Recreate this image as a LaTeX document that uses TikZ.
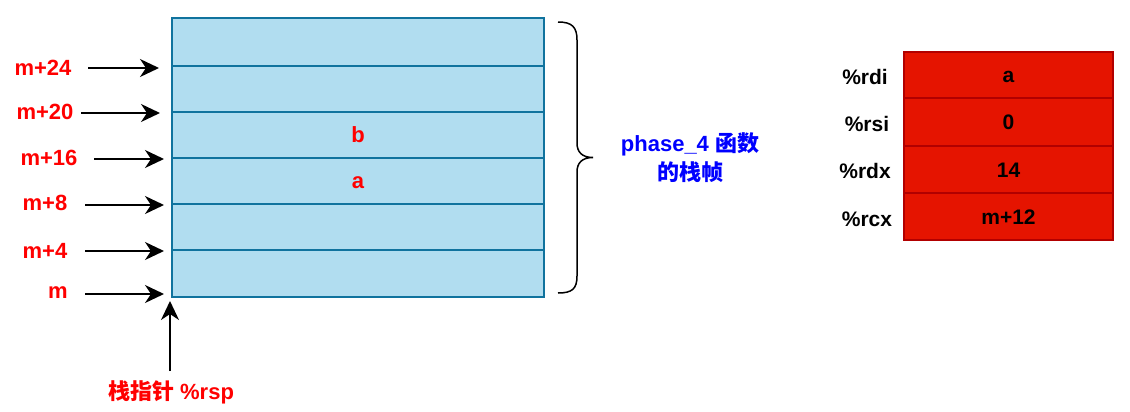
\documentclass[tikz,border=0pt]{standalone}
\usepackage{fontspec}
\setmainfont{Liberation Sans}
\newfontfamily\cjk{Noto Sans CJK SC}
\usetikzlibrary{arrows.meta}
\definecolor{stackfill}{HTML}{B1DDF0}
\definecolor{stackline}{HTML}{10739E}
\definecolor{regfill}{HTML}{E51400}
\definecolor{regline}{HTML}{B20000}
\definecolor{txtblue}{HTML}{0000FF}
\begin{document}
\begin{tikzpicture}[x=1pt,y=-1pt,
  lbl/.style={font=\fontsize{22}{26}\selectfont\bfseries, text=red, inner sep=0pt},
  reglbl/.style={font=\fontsize{21}{25}\selectfont\bfseries, text=black, inner sep=0pt},
  cell/.style={draw=stackline, fill=stackfill, line width=1.5pt, minimum width=372pt, inner sep=0pt,
    font=\fontsize{22}{26}\selectfont\bfseries, text=red, text height=15pt, text depth=0pt},
  reg/.style={draw=regline, fill=regfill, line width=1.5pt, minimum width=209pt, inner sep=0pt,
    font=\fontsize{21}{25}\selectfont\bfseries, text=black, text height=15pt, text depth=0pt},
  arr/.style={line width=1.8pt, -{Stealth[length=19pt,width=18pt,inset=6pt]}},
]
\useasboundingbox (0,0) rectangle (1130,412);

% stack cells
\node[cell, minimum height=48pt] (s1) at (358,42) {};
\node[cell, minimum height=46pt] (s2) at (358,89) {};
\node[cell, minimum height=46pt] (s3) at (358,135) {b};
\node[cell, minimum height=46pt] (s4) at (358,181) {a};
\node[cell, minimum height=46pt] (s5) at (358,227) {};
\node[cell, minimum height=47pt] (s6) at (358,273.5) {};

% left labels
\node[lbl] (l24) at (43,68) {m+24};
\node[lbl] (l20) at (45,112) {m+20};
\node[lbl] (l16) at (49,158) {m+16};
\node[lbl] (l8) at (45,203) {m+8};
\node[lbl] (l4) at (45,251) {m+4};
\node[lbl] (l0) at (58,293) {m};

\coordinate (a24s) at (88,68);  \coordinate (a24e) at (159,68);
\coordinate (a20s) at (81,113); \coordinate (a20e) at (160,113);
\coordinate (a16s) at (94,159); \coordinate (a16e) at (164,159);
\coordinate (a8s) at (85,205);  \coordinate (a8e) at (164,205);
\coordinate (a4s) at (85,251);  \coordinate (a4e) at (164,251);
\coordinate (a0s) at (85,294);  \coordinate (a0e) at (164,294);
\draw[arr] (a24s) -- (a24e);
\draw[arr] (a20s) -- (a20e);
\draw[arr] (a16s) -- (a16e);
\draw[arr] (a8s) -- (a8e);
\draw[arr] (a4s) -- (a4e);
\draw[arr] (a0s) -- (a0e);

% stack pointer
\node[lbl] (sp) at (171,392) {{\cjk\bfseries 栈指针} \%rsp};
\coordinate (sps) at (170,371);
\coordinate (spe) at (170,301);
\draw[arr] (sps) -- (spe);

% brace
\draw[line width=1.5pt] (558,22) .. controls (572,22) and (577,27) .. (577,40)
  -- (577,143) .. controls (577,152) and (582,157.5) .. (593,157.5)
  .. controls (582,157.5) and (577,163) .. (577,172)
  -- (577,276) .. controls (577,289) and (572,293) .. (558,293);

\node[font=\fontsize{22}{29}\selectfont\bfseries, text=txtblue, align=center, inner sep=0pt] (frame) at (690,158)
  {phase\_4 {\cjk\bfseries 函数}\\{\cjk\bfseries 的栈帧}};

% registers
\node[reg, minimum height=46pt] (r1) at (1008.5,75) {a};
\node[reg, minimum height=48pt] (r2) at (1008.5,122) {0};
\node[reg, minimum height=47pt] (r3) at (1008.5,169.5) {14};
\node[reg, minimum height=47pt] (r4) at (1008.5,216.5) {m+12};

\node[reglbl] (n1) at (865,77) {\%rdi};
\node[reglbl] (n2) at (867,124) {\%rsi};
\node[reglbl] (n3) at (865,171) {\%rdx};
\node[reglbl] (n4) at (867,219) {\%rcx};
\end{tikzpicture}
\end{document}
